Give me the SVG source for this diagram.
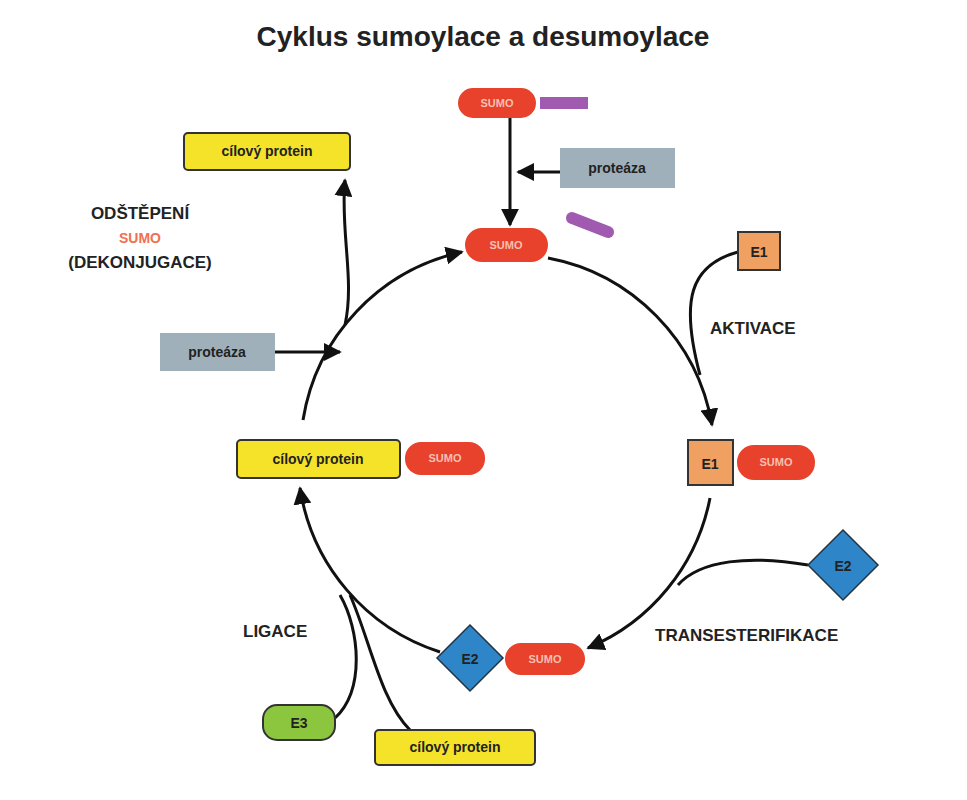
<svg xmlns="http://www.w3.org/2000/svg" width="967" height="800" viewBox="0 0 967 800">
<style>
text{font-family:"Liberation Sans",Arial,sans-serif;font-weight:bold}
.lbl{font-size:17px;fill:#222}
.sumo{fill:#e8412c}
.st{font-size:11px;fill:#f6c0b0;text-anchor:middle}
.tgt{fill:#f5e32a;stroke:#333;stroke-width:2}
.tt{font-size:14px;fill:#222;text-anchor:middle}
.prot{fill:#9fb0ba}
.ln{fill:none;stroke:#111;stroke-width:3}
</style>
<defs><marker id="a" viewBox="0 0 10 10" refX="9" refY="5" markerWidth="6" markerHeight="6" orient="auto"><path d="M0,0L10,5L0,10z" fill="#111"/></marker></defs>
<rect width="967" height="800" fill="#fff"/>
<text x="483" y="46" font-size="28" text-anchor="middle" fill="#222">Cyklus sumoylace a desumoylace</text>
<g id="connectors">
<path class="ln" d="M510,118V225" marker-end="url(#a)"/>
<path class="ln" d="M560,172H518" marker-end="url(#a)"/>
<path class="ln" d="M548,258A205,205 0 0 1 712,425" marker-end="url(#a)"/>
<path class="ln" d="M738,252C690,265 680,300 700,375"/>
<path class="ln" d="M710,498A205,205 0 0 1 588,648" marker-end="url(#a)"/>
<path class="ln" d="M808,565C750,555 700,560 678,585"/>
<path class="ln" d="M440,652A205,205 0 0 1 300,488" marker-end="url(#a)"/>
<path class="ln" d="M335,718C365,690 360,630 340,595"/>
<path class="ln" d="M410,730C380,700 370,640 350,595"/>
<path class="ln" d="M303,420A205,205 0 0 1 462,252" marker-end="url(#a)"/>
<path class="ln" d="M275,352H340" marker-end="url(#a)"/>
<path class="ln" d="M345,325C355,280 340,230 345,180" marker-end="url(#a)"/>
</g>
<g id="sumo-top"><rect class="sumo" x="458" y="88" width="78" height="30" rx="15"/><text class="st" x="497" y="107">SUMO</text><rect x="540" y="97" width="48" height="12" fill="#a05ab0"/></g>
<g id="sumo-tag"><path d="M572,218L608,232" stroke="#a05ab0" stroke-width="12" stroke-linecap="round"/></g>
<g id="proteaza-top"><rect class="prot" x="560" y="148" width="115" height="40"/><text class="tt" x="617" y="173">proteáza</text></g>
<g id="sumo-center"><rect class="sumo" x="465" y="228" width="83" height="34" rx="17"/><text class="st" x="506" y="249">SUMO</text></g>
<g id="e1-top"><rect x="738" y="232" width="42" height="38" fill="#f0a060" stroke="#333" stroke-width="2"/><text class="tt" x="759" y="257" font-size="16">E1</text></g>
<text class="lbl" x="710" y="334">AKTIVACE</text>
<g id="e1-sumo"><rect x="688" y="440" width="45" height="45" fill="#f0a060" stroke="#333" stroke-width="2"/><text class="tt" x="710" y="469" font-size="16">E1</text><rect class="sumo" x="737" y="445" width="78" height="35" rx="17"/><text class="st" x="776" y="466">SUMO</text></g>
<g id="e2-right"><path d="M843,530L878,565L843,600L808,565z" fill="#2e86c8" stroke="#234" stroke-width="1.5"/><text class="tt" x="843" y="571" font-size="16">E2</text></g>
<text class="lbl" x="655" y="641">TRANSESTERIFIKACE</text>
<g id="e2-sumo"><path d="M470,625L503,658L470,691L437,658z" fill="#2e86c8" stroke="#234" stroke-width="1.5"/><text class="tt" x="470" y="664" font-size="16">E2</text><rect class="sumo" x="505" y="643" width="80" height="32" rx="16"/><text class="st" x="545" y="663">SUMO</text></g>
<text class="lbl" x="243" y="637">LIGACE</text>
<g id="e3"><rect x="263" y="705" width="72" height="35" rx="14" fill="#8cc63f" stroke="#333" stroke-width="2"/><text class="tt" x="299" y="728" font-size="16">E3</text></g>
<g id="target-bottom"><rect class="tgt" x="375" y="730" width="160" height="35" rx="4"/><text class="tt" x="455" y="752">cílový protein</text></g>
<g id="target-sumo"><rect class="tgt" x="237" y="440" width="163" height="38" rx="4"/><text class="tt" x="318" y="464">cílový protein</text><rect class="sumo" x="405" y="442" width="80" height="33" rx="16"/><text class="st" x="445" y="462">SUMO</text></g>
<g id="proteaza-left"><rect class="prot" x="160" y="333" width="115" height="38"/><text class="tt" x="217" y="357">proteáza</text></g>
<g id="target-top"><rect class="tgt" x="184" y="133" width="166" height="37" rx="4"/><text class="tt" x="267" y="156">cílový protein</text></g>
<text class="lbl" x="140" y="219" text-anchor="middle">ODŠTĚPENÍ</text>
<text x="140" y="243" text-anchor="middle" font-size="14" fill="#f07050">SUMO</text>
<text class="lbl" x="140" y="268" text-anchor="middle">(DEKONJUGACE)</text>
</svg>
